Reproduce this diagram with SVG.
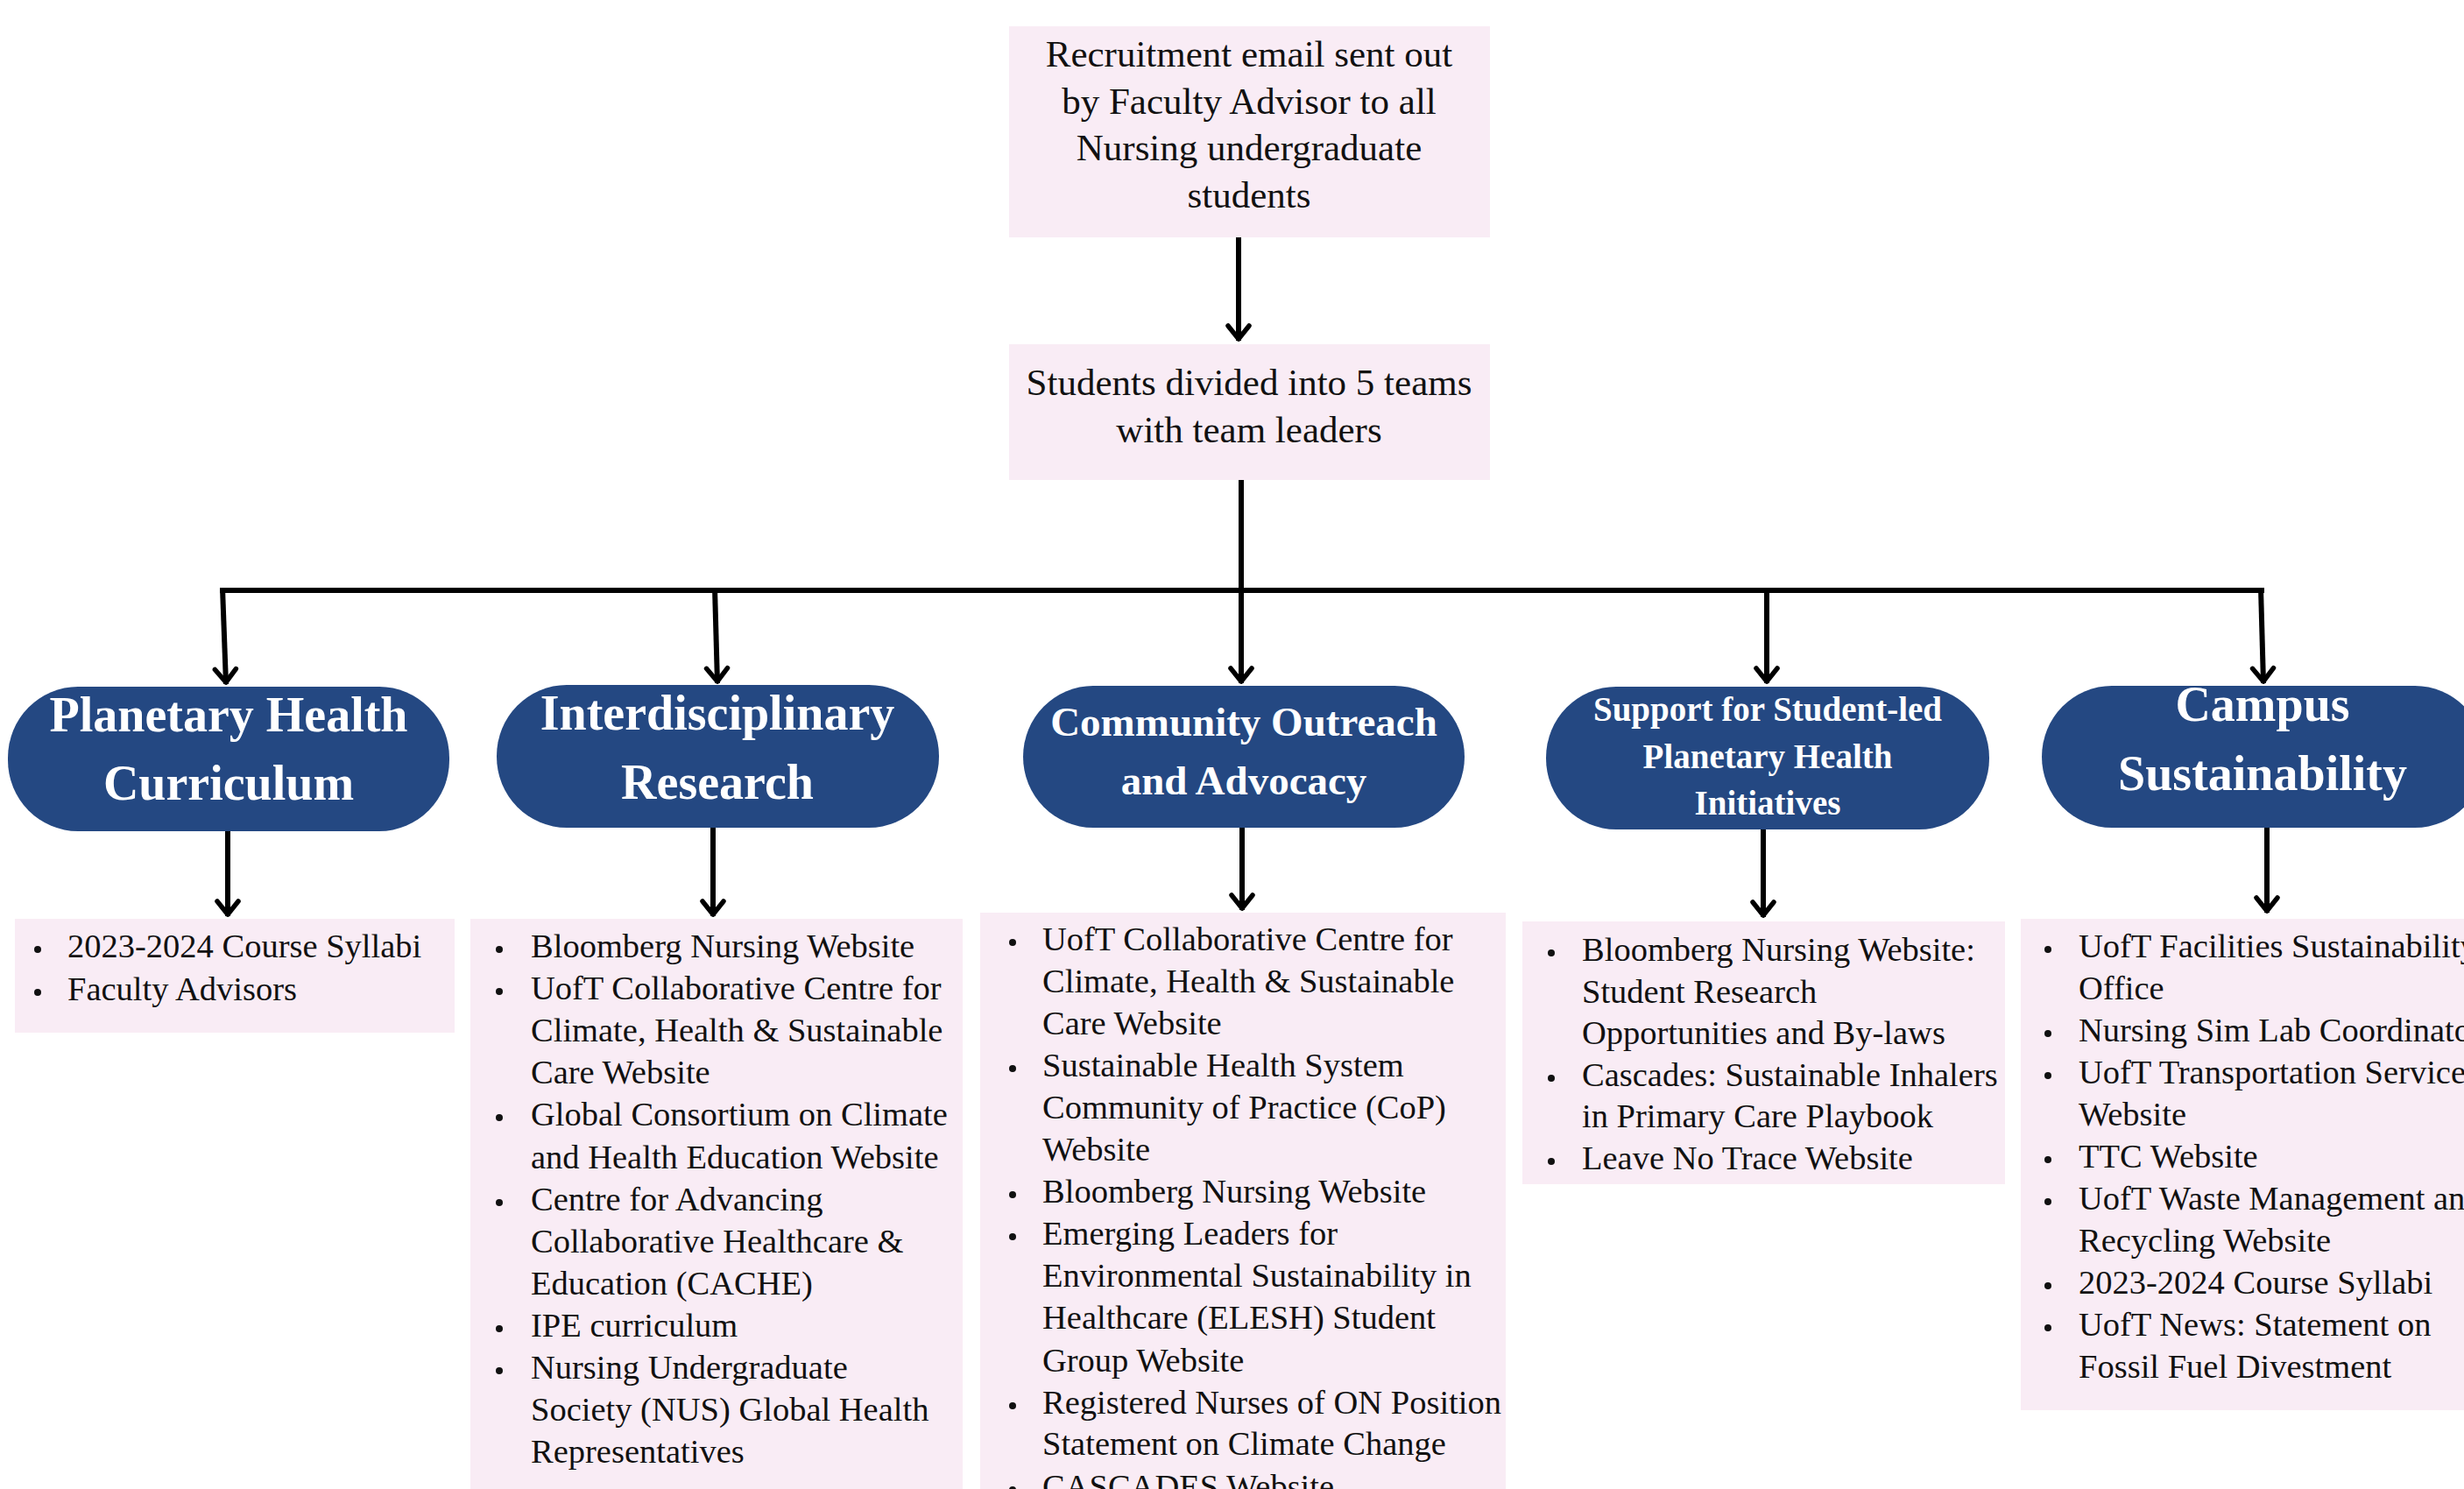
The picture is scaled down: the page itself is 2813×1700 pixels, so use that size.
<svg xmlns="http://www.w3.org/2000/svg" width="2813" height="1700" viewBox="0 0 2813 1700">
<defs>
<style>
.box{fill:#F9ECF5;}
.node{fill:#244882;}
.t{font-family:"Liberation Serif","Times New Roman",serif;font-size:43px;fill:#111;text-anchor:middle;}
.n{font-family:"Liberation Serif","Times New Roman",serif;font-weight:bold;fill:#fff;text-anchor:middle;}
.li{font-family:"Liberation Serif","Times New Roman",serif;font-size:38.5px;fill:#111;}
.b{fill:#111;}
.c{fill:none;stroke:#000;stroke-width:6;}
</style>
<marker id="arr" markerUnits="userSpaceOnUse" markerWidth="40" markerHeight="40" viewBox="-20 -20 40 40" refX="0" refY="0" orient="auto" overflow="visible">
<path d="M-17,-12 L-2,0 L-17,12" fill="none" stroke="#000" stroke-width="5.5" stroke-linecap="round" stroke-linejoin="round"/>
</marker>
</defs>
<rect width="2813" height="1700" fill="#fff"/>

<g id="connectors">
<line class="c" x1="1414" y1="271" x2="1414" y2="389" marker-end="url(#arr)"/>
<line class="c" x1="1417" y1="548" x2="1417" y2="780" marker-end="url(#arr)"/>
<line class="c" x1="251" y1="674" x2="2585" y2="674"/>
<line class="c" x1="254" y1="671" x2="258" y2="781" marker-end="url(#arr)"/>
<line class="c" x1="816" y1="671" x2="819" y2="780" marker-end="url(#arr)"/>
<line class="c" x1="2017" y1="671" x2="2017" y2="780" marker-end="url(#arr)"/>
<line class="c" x1="2581" y1="671" x2="2584" y2="780" marker-end="url(#arr)"/>
<line class="c" x1="260" y1="948" x2="260" y2="1046" marker-end="url(#arr)"/>
<line class="c" x1="814" y1="944" x2="814" y2="1046" marker-end="url(#arr)"/>
<line class="c" x1="1418" y1="944" x2="1418" y2="1039" marker-end="url(#arr)"/>
<line class="c" x1="2013" y1="945" x2="2013" y2="1047" marker-end="url(#arr)"/>
<line class="c" x1="2588" y1="944" x2="2588" y2="1042" marker-end="url(#arr)"/>
</g>

<g id="recruitment">
<rect class="box" x="1152" y="30" width="549" height="241"/>
<text class="t"><tspan x="1426" y="76">Recruitment email sent out</tspan><tspan x="1426" y="129.5">by Faculty Advisor to all</tspan><tspan x="1426" y="183">Nursing undergraduate</tspan><tspan x="1426" y="237">students</tspan></text>
</g>

<g id="teams">
<rect class="box" x="1152" y="393" width="549" height="155"/>
<text class="t"><tspan x="1426" y="451">Students divided into 5 teams</tspan><tspan x="1426" y="505">with team leaders</tspan></text>
</g>

<g id="node-curriculum">
<rect class="node" x="9" y="784" width="504" height="165" rx="80" ry="81"/>
<text class="n" font-size="56"><tspan x="261" y="835">Planetary Health</tspan><tspan x="261" y="913">Curriculum</tspan></text>
</g>

<g id="node-research">
<rect class="node" x="567" y="782" width="505" height="163" rx="80" ry="81"/>
<text class="n" font-size="56"><tspan x="819" y="833">Interdisciplinary</tspan><tspan x="819" y="912">Research</tspan></text>
</g>

<g id="node-outreach">
<rect class="node" x="1168" y="783" width="504" height="162" rx="80" ry="81"/>
<text class="n" font-size="47"><tspan x="1420" y="840">Community Outreach</tspan><tspan x="1420" y="907">and Advocacy</tspan></text>
</g>

<g id="node-support">
<rect class="node" x="1765" y="784" width="506" height="163" rx="80" ry="81"/>
<text class="n" font-size="39"><tspan x="2018" y="823">Support for Student-led</tspan><tspan x="2018" y="877">Planetary Health</tspan><tspan x="2018" y="930">Initiatives</tspan></text>
</g>

<g id="node-campus">
<rect class="node" x="2331" y="783" width="506" height="162" rx="80" ry="81"/>
<text class="n" font-size="56"><tspan x="2583" y="823">Campus</tspan><tspan x="2583" y="902">Sustainability</tspan></text>
</g>

<g id="list-curriculum">
<rect class="box" x="17" y="1049" width="502" height="130"/>
<circle class="b" cx="43" cy="1084" r="4"/>
<circle class="b" cx="43" cy="1133" r="4"/>
<text class="li"><tspan x="77" y="1093">2023-2024 Course Syllabi</tspan><tspan x="77" y="1142">Faculty Advisors</tspan></text>
</g>

<g id="list-research">
<rect class="box" x="537" y="1049" width="562" height="651"/>
<circle class="b" cx="570" cy="1084" r="4"/>
<circle class="b" cx="570" cy="1132" r="4"/>
<circle class="b" cx="570" cy="1276" r="4"/>
<circle class="b" cx="570" cy="1373" r="4"/>
<circle class="b" cx="570" cy="1517" r="4"/>
<circle class="b" cx="570" cy="1565" r="4"/>
<text class="li"><tspan x="606" y="1093">Bloomberg Nursing Website</tspan><tspan x="606" y="1141">UofT Collaborative Centre for</tspan><tspan x="606" y="1189">Climate, Health &amp; Sustainable</tspan><tspan x="606" y="1237">Care Website</tspan><tspan x="606" y="1285">Global Consortium on Climate</tspan><tspan x="606" y="1334">and Health Education Website</tspan><tspan x="606" y="1382">Centre for Advancing</tspan><tspan x="606" y="1430">Collaborative Healthcare &amp;</tspan><tspan x="606" y="1478">Education (CACHE)</tspan><tspan x="606" y="1526">IPE curriculum</tspan><tspan x="606" y="1574">Nursing Undergraduate</tspan><tspan x="606" y="1622">Society (NUS) Global Health</tspan><tspan x="606" y="1670">Representatives</tspan></text>
</g>

<g id="list-outreach">
<rect class="box" x="1119" y="1042" width="600" height="658"/>
<circle class="b" cx="1156" cy="1076" r="4"/>
<circle class="b" cx="1156" cy="1220" r="4"/>
<circle class="b" cx="1156" cy="1364" r="4"/>
<circle class="b" cx="1156" cy="1412" r="4"/>
<circle class="b" cx="1156" cy="1605" r="4"/>
<circle class="b" cx="1156" cy="1701" r="4"/>
<text class="li"><tspan x="1190" y="1085">UofT Collaborative Centre for</tspan><tspan x="1190" y="1133">Climate, Health &amp; Sustainable</tspan><tspan x="1190" y="1181">Care Website</tspan><tspan x="1190" y="1229">Sustainable Health System</tspan><tspan x="1190" y="1277">Community of Practice (CoP)</tspan><tspan x="1190" y="1325">Website</tspan><tspan x="1190" y="1373">Bloomberg Nursing Website</tspan><tspan x="1190" y="1421">Emerging Leaders for</tspan><tspan x="1190" y="1469">Environmental Sustainability in</tspan><tspan x="1190" y="1517">Healthcare (ELESH) Student</tspan><tspan x="1190" y="1566">Group Website</tspan><tspan x="1190" y="1614">Registered Nurses of ON Position</tspan><tspan x="1190" y="1661">Statement on Climate Change</tspan><tspan x="1190" y="1710">CASCADES Website</tspan></text>
</g>

<g id="list-support">
<rect class="box" x="1738" y="1052" width="551" height="300"/>
<circle class="b" cx="1771" cy="1088" r="4"/>
<circle class="b" cx="1771" cy="1231" r="4"/>
<circle class="b" cx="1771" cy="1326" r="4"/>
<text class="li"><tspan x="1806" y="1097">Bloomberg Nursing Website:</tspan><tspan x="1806" y="1145">Student Research</tspan><tspan x="1806" y="1192">Opportunities and By-laws</tspan><tspan x="1806" y="1240">Cascades: Sustainable Inhalers</tspan><tspan x="1806" y="1287">in Primary Care Playbook</tspan><tspan x="1806" y="1335">Leave No Trace Website</tspan></text>
</g>

<g id="list-campus">
<rect class="box" x="2307" y="1049" width="506" height="561"/>
<circle class="b" cx="2338" cy="1084" r="4"/>
<circle class="b" cx="2338" cy="1180" r="4"/>
<circle class="b" cx="2338" cy="1228" r="4"/>
<circle class="b" cx="2338" cy="1324" r="4"/>
<circle class="b" cx="2338" cy="1372" r="4"/>
<circle class="b" cx="2338" cy="1468" r="4"/>
<circle class="b" cx="2338" cy="1516" r="4"/>
<text class="li"><tspan x="2373" y="1093">UofT Facilities Sustainability</tspan><tspan x="2373" y="1141">Office</tspan><tspan x="2373" y="1189">Nursing Sim Lab Coordinator</tspan><tspan x="2373" y="1237">UofT Transportation Services</tspan><tspan x="2373" y="1285">Website</tspan><tspan x="2373" y="1333">TTC Website</tspan><tspan x="2373" y="1381">UofT Waste Management and</tspan><tspan x="2373" y="1429">Recycling Website</tspan><tspan x="2373" y="1477">2023-2024 Course Syllabi</tspan><tspan x="2373" y="1525">UofT News: Statement on</tspan><tspan x="2373" y="1573">Fossil Fuel Divestment</tspan></text>
</g>
</svg>
